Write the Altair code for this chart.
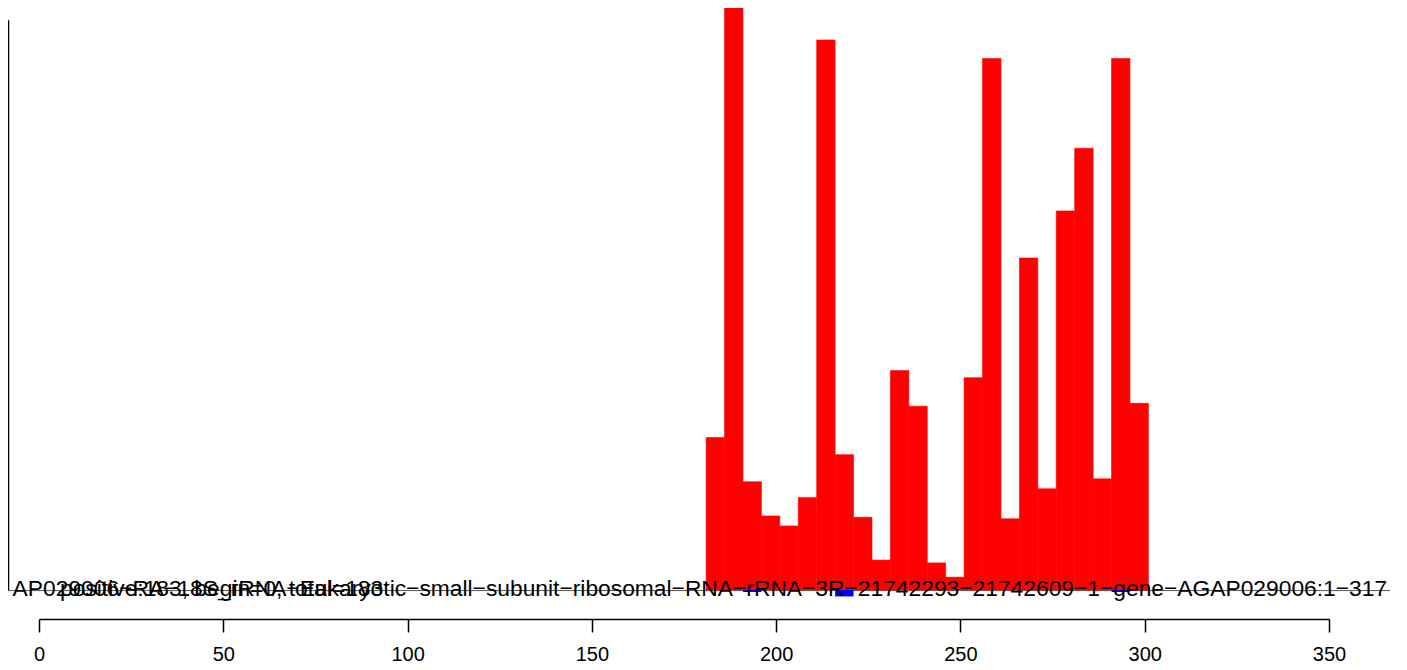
import altair as alt
import pandas as pd

# Histogram bins (start / end positions along the sequence)
bin_start = [181, 186, 191, 196, 201, 206, 211, 216, 221, 226, 231, 236,
             241, 246, 251, 256, 261, 266, 271, 276, 281, 286, 291, 296]
bin_end = [186, 191, 196, 201, 206, 211, 216, 221, 226, 231, 236, 241,
           246, 251, 256, 261, 266, 271, 276, 281, 286, 291, 296, 301]
# positive-strand coverage (red)
pos_values = [107, 430, 76, 52, 45, 65, 386, 95, 51, 21, 154, 129,
              19, 9, 149, 373, 50, 233, 71, 266, 310, 78, 373, 131]
# negative-strand coverage (blue)
neg_start = [191, 216, 291]
neg_end = [196, 221, 296]
neg_values = [-1.4, -4.5, -1.4]

x_ticks = [0, 50, 100, 150, 200, 250, 300, 350]
y_ticks = [0, 100, 200, 300, 400]

label_main = ("AP029006\u2212RA\u221218S_rRNA\u2212Eukaryotic\u2212small\u2212subunit\u2212ribosomal\u2212RNA"
              "\u2212rRNA\u22123R\u221221742293\u221221742609\u22121\u2212gene\u2212AGAP029006:1\u2212317")
label_stats = "positive:183, begin=0, total=183"

pos_df = pd.DataFrame({"start": bin_start, "end": bin_end, "value": pos_values})
neg_df = pd.DataFrame({"start": neg_start, "end": neg_end, "value": neg_values})
base_df = pd.DataFrame({"x": [-8.7], "x2": [366.6], "y": [-0.4]})
lab_df = pd.DataFrame({"x": [179.3], "y": [-4.2], "t": [label_main]})
lab2_df = pd.DataFrame({"x": [5.7], "y": [-4.2], "t": [label_stats]})

xscale = alt.Scale(domain=[0, 350], nice=False, zero=False)
yscale = alt.Scale(domain=[0, 400], nice=False, zero=False)

xaxis = alt.Axis(values=x_ticks, orient="bottom", offset=29, tickSize=13,
                 tickWidth=1.5, domainWidth=1.5, domainColor="black", tickColor="black",
                 labelFont="Liberation Sans", labelFontSize=20, labelColor="black",
                 labelPadding=12, labelFlush=False, labelOverlap=False, labelBound=False,
                 grid=False, title=None, format="d")
yaxis = alt.Axis(values=y_ticks, orient="left", offset=31, tickSize=13,
                 tickWidth=1.5, domainWidth=1.5, domainColor="black", tickColor="black",
                 labels=False, grid=False, title=None)

bars = alt.Chart(pos_df).mark_rect(color="#FF0000", stroke="#FF0000", strokeWidth=0.6).encode(
    x=alt.X("start:Q", scale=xscale, axis=xaxis),
    x2="end:Q",
    y=alt.Y("value:Q", scale=yscale, axis=yaxis),
    y2=alt.datum(0),
)

neg = alt.Chart(neg_df).mark_rect(color="#0000FF").encode(
    x=alt.X("start:Q", scale=xscale),
    x2="end:Q",
    y=alt.Y("value:Q", scale=yscale),
    y2=alt.datum(0),
)

baseline = alt.Chart(base_df).mark_rule(color="#555555", strokeWidth=1).encode(
    x=alt.X("x:Q", scale=xscale),
    x2="x2:Q",
    y=alt.Y("y:Q", scale=yscale),
)

txt1 = alt.Chart(lab_df).mark_text(font="Liberation Sans", fontSize=22.8, color="black",
                                   align="center", baseline="alphabetic").encode(
    x=alt.X("x:Q", scale=xscale),
    y=alt.Y("y:Q", scale=yscale),
    text="t:N",
)
txt2 = alt.Chart(lab2_df).mark_text(font="Liberation Sans", fontSize=22.8, color="black",
                                    align="left", baseline="alphabetic").encode(
    x=alt.X("x:Q", scale=xscale),
    y=alt.Y("y:Q", scale=yscale),
    text="t:N",
)

chart = alt.layer(baseline, bars, neg, txt1, txt2).properties(
    width=1290, height=570,
    autosize=alt.AutoSizeParams(type="none"),
    padding={"left": 31, "top": 12, "right": 70, "bottom": 74},
).configure(background="white").configure_view(stroke=None, strokeWidth=0)

chart.save("out.html", embed_options={"renderer": "svg", "actions": False})
